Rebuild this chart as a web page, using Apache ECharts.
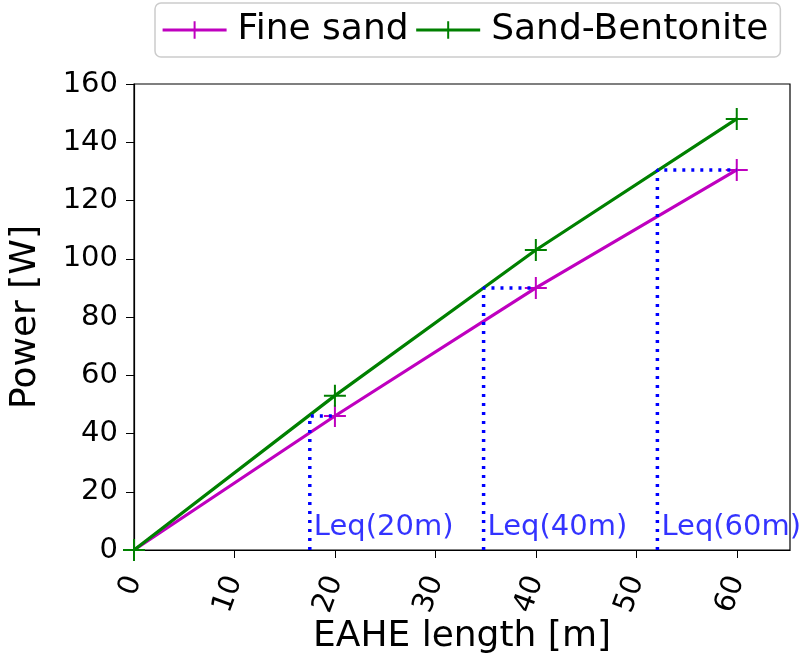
<!DOCTYPE html>
<html>
<head>
<meta charset="utf-8">
<script src="https://cdn.jsdelivr.net/npm/echarts@6/dist/echarts.min.js"></script>
<style>
  html, body { margin: 0; padding: 0; background: #fff; }
  #chart { width: 805px; height: 659px; }
</style>
</head>
<body>
<div id="chart"></div>
<script>
// EAHE length [m] vs power [W]
const lengths = [0, 20, 40, 60];
const fineSand = [0, 46, 90, 130.5];
const sandBentonite = [0, 53, 103, 148];

// equivalent lengths (where sand-bentonite reaches the fine sand power)
const leqX = [17.5, 34.8, 52.1];
const leqY = [46, 90, 130.5];
const leqRef = [20, 40, 60];
const leqLabels = ["Leq(20m)", "Leq(40m)", "Leq(60m)"];

const FONT = "DejaVu Sans";
const crossPath = "path://M10,0 L10,20 M0,10 L20,10";

const chart = echarts.init(document.getElementById("chart"), null, { renderer: "canvas" });

const pairs = (ys) => lengths.map((x, i) => [x, ys[i]]);

const leqLines = leqX.map((x, i) => ({
  type: "line",
  data: [[x, 0], [x, leqY[i]], [leqRef[i], leqY[i]]],
  symbol: "none",
  silent: true,
  animation: false,
  lineStyle: { color: "#0000ff", width: 3.5, type: [3, 6], cap: "butt" },
  z: 5,
}));

chart.setOption({
  animation: false,
  textStyle: { fontFamily: FONT },
  grid: {
    left: 134, right: 15, top: 84, bottom: 109,
    outerBoundsMode: "none",
    show: true, borderColor: "#000", borderWidth: 1.2, backgroundColor: "transparent",
  },
  legend: {
    top: 3,
    left: 155,
    data: ["Fine sand", "Sand-Bentonite"],
    itemWidth: 64,
    itemHeight: 22,
    itemGap: 6,
    padding: [9, 12, 9, 6],
    borderColor: "#cccccc",
    borderWidth: 1.5,
    borderRadius: 6,
    lineStyle: { width: 3.2 },
    textStyle: { fontFamily: FONT, fontSize: 36, color: "#000", padding: [0, 0, 0, 6] },
  },
  xAxis: {
    type: "value",
    min: 0,
    max: 65.3,
    interval: 10,
    name: "EAHE length [m]",
    nameLocation: "middle",
    nameGap: 69,
    nameMoveOverlap: false,
    nameTextStyle: { fontFamily: FONT, fontSize: 36, color: "#000" },
    splitLine: { show: false },
    axisLine: { lineStyle: { color: "#000", width: 1.2 } },
    axisTick: { show: true, length: 8, lineStyle: { color: "#000" } },
    axisLabel: { rotate: 70, fontSize: 29, color: "#000", margin: 27, showMaxLabel: false },
  },
  yAxis: {
    type: "value",
    min: 0,
    max: 160,
    interval: 20,
    name: "Power [W]",
    nameLocation: "middle",
    nameGap: 90,
    nameMoveOverlap: false,
    nameTextStyle: { fontFamily: FONT, fontSize: 36, color: "#000" },
    splitLine: { show: false },
    axisLine: { lineStyle: { color: "#000", width: 1.2 } },
    axisTick: { show: true, length: 8, lineStyle: { color: "#000" } },
    axisLabel: { fontSize: 29, color: "#000", margin: 16 },
  },
  series: [
    {
      name: "Fine sand",
      type: "line",
      data: pairs(fineSand),
      symbol: crossPath,
      symbolSize: 22,
      showAllSymbol: true,
      lineStyle: { color: "#bf00bf", width: 3.2 },
      itemStyle: { color: "#bf00bf", borderColor: "#bf00bf", borderWidth: 2 },
      z: 3,
    },
    {
      name: "Sand-Bentonite",
      type: "line",
      data: pairs(sandBentonite),
      symbol: crossPath,
      symbolSize: 22,
      showAllSymbol: true,
      lineStyle: { color: "#008000", width: 3.2 },
      itemStyle: { color: "#008000", borderColor: "#008000", borderWidth: 2 },
      z: 3,
    },
    ...leqLines,
    {
      type: "scatter",
      data: leqX.map((x) => [x, 0]),
      symbolSize: 0,
      silent: true,
      z: 6,
      label: {
        show: true,
        position: "right",
        distance: 4,
        offset: [0, -23],
        fontFamily: FONT,
        fontSize: 29,
        color: "#0000ff",
        formatter: (p) => leqLabels[p.dataIndex],
      },
    },
  ],
});
</script>
</body>
</html>
